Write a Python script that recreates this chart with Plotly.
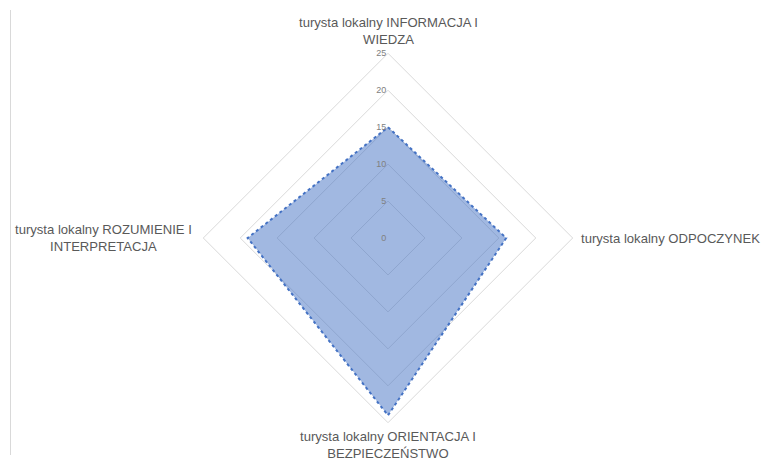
import plotly.graph_objects as go

categories = [
    "turysta lokalny INFORMACJA I<br>WIEDZA",
    "turysta lokalny ODPOCZYNEK",
    "turysta lokalny ORIENTACJA I<br>BEZPIECZEŃSTWO",
    "turysta lokalny ROZUMIENIE I<br>INTERPRETACJA",
]
values = [15, 16, 24, 19]
radial_ticks = [0, 5, 10, 15, 20, 25]

W, H = 761, 459
cx, cy, R = 388, 238, 184.7

def px(x):
    return x / W

def py(y):
    return 1 - y / H

fig = go.Figure()
fig.add_trace(go.Scatterpolar(
    r=values + values[:1],
    theta=categories + categories[:1],
    mode="lines",
    fill="toself",
    fillcolor="rgba(68,114,196,0.5)",
    line=dict(color="#4472C4", width=2, dash="dot"),
    hoverinfo="skip",
    showlegend=False,
))

label_pos = [
    dict(x=388, y=31, xanchor="center", align="center"),
    dict(x=579, y=238, xanchor="left", align="left"),
    dict(x=388, y=445, xanchor="center", align="center"),
    dict(x=103, y=238, xanchor="center", align="center"),
]
annotations = []
for cat, p in zip(categories, label_pos):
    annotations.append(dict(
        text=cat, xref="paper", yref="paper", x=px(p["x"]), y=py(p["y"]),
        xanchor=p["xanchor"], yanchor="middle", align=p["align"], showarrow=False,
        font=dict(size=13.1, color="#595959"),
    ))

fig.update_layout(
    width=W, height=H,
    margin=dict(l=0, r=0, t=0, b=0),
    paper_bgcolor="white",
    plot_bgcolor="white",
    font=dict(family="Liberation Sans, Arial, sans-serif", color="#595959", size=13),
    polar=dict(
        domain=dict(x=[(cx - R) / W, (cx + R) / W], y=[(H - cy - R) / H, (H - cy + R) / H]),
        gridshape="linear",
        bgcolor="white",
        radialaxis=dict(
            range=[0, 25],
            tickvals=radial_ticks,
            ticktext=[str(v) for v in radial_ticks],
            angle=90,
            tickangle=90,
            side="counterclockwise",
            showline=False,
            ticks="",
            gridcolor="#d9d9d9",
            gridwidth=1,
            tickfont=dict(size=9, color="#808080"),
        ),
        angularaxis=dict(
            direction="clockwise",
            rotation=90,
            showgrid=False,
            showline=True,
            linecolor="#d9d9d9",
            linewidth=1,
            ticks="",
            showticklabels=False,
        ),
    ),
    annotations=annotations,
    shapes=[dict(type="line", xref="paper", yref="paper",
                 x0=px(10.5), x1=px(10.5), y0=py(10), y1=py(455),
                 line=dict(color="#d9d9d9", width=1))],
)

fig.write_html(
    "out.html",
    config={"displayModeBar": False},
    post_script="document.body.style.margin='0';document.body.style.overflow='hidden';",
)
